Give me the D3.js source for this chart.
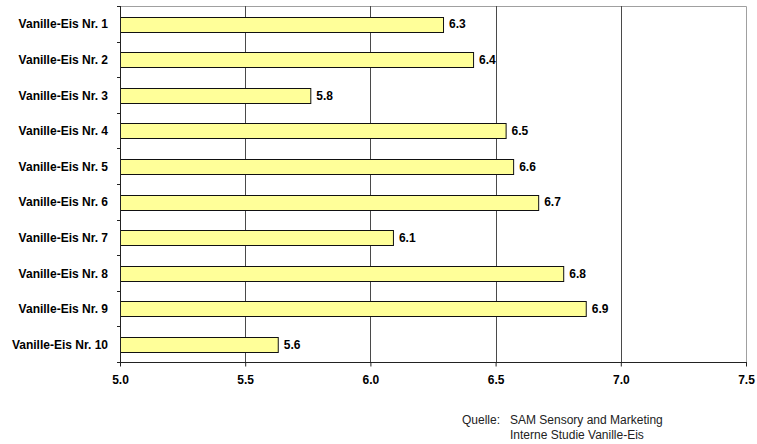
<!DOCTYPE html>
<html>
<head>
<meta charset="utf-8">
<script src="https://cdn.jsdelivr.net/npm/d3@7"></script>
<style>
  html, body { margin: 0; padding: 0; background: #fff; }
  svg { display: block; font-family: "Liberation Sans", Arial, Helvetica, sans-serif; }
</style>
</head>
<body>
<svg id="chart" width="757" height="444"></svg>
<script>
// Average ratings per vanilla ice cream sample
const categories = [
  "Vanille-Eis Nr. 1", "Vanille-Eis Nr. 2", "Vanille-Eis Nr. 3", "Vanille-Eis Nr. 4",
  "Vanille-Eis Nr. 5", "Vanille-Eis Nr. 6", "Vanille-Eis Nr. 7", "Vanille-Eis Nr. 8",
  "Vanille-Eis Nr. 9", "Vanille-Eis Nr. 10"
];
const ratings = [6.29, 6.41, 5.76, 6.54, 6.57, 6.67, 6.09, 6.77, 6.86, 5.63];
const xTicks = [5.0, 5.5, 6.0, 6.5, 7.0, 7.5];
const sourceLines = ["SAM Sensory and Marketing", "Interne Studie Vanille-Eis"];

const svg = d3.select("#chart");
const plot = { left: 120, right: 746, top: 6, bottom: 362 };

const x = d3.scaleLinear().domain([5.0, 7.5]).range([plot.left, plot.right]);
const y = d3.scaleBand().domain(categories).range([plot.top, plot.bottom])
  .paddingInner(0.59).paddingOuter(0.295);
const fmt = d3.format(".1f");

// plot frame (top and right edges)
svg.append("path")
  .attr("d", `M${plot.left},${plot.top + 0.5}H${plot.right + 0.5}V${plot.bottom}`)
  .attr("fill", "none").attr("stroke", "#a0a0a0").attr("stroke-width", 1);

// vertical gridlines
svg.append("g").selectAll("line")
  .data(xTicks.filter(t => t > 5.0 && t < 7.5))
  .join("line")
  .attr("x1", d => Math.round(x(d)) + 0.5).attr("x2", d => Math.round(x(d)) + 0.5)
  .attr("y1", plot.top).attr("y2", plot.bottom)
  .attr("stroke", "#4a4a4a").attr("stroke-width", 1);

// bars
svg.append("g").selectAll("rect")
  .data(ratings)
  .join("rect")
  .attr("x", x(5.0) + 0.5)
  .attr("y", (d, i) => Math.round(y(categories[i])) + 0.5)
  .attr("width", d => x(d) - x(5.0))
  .attr("height", Math.round(y.bandwidth()))
  .attr("fill", "#ffff99")
  .attr("stroke", "#111").attr("stroke-width", 1);

// value labels
svg.append("g").selectAll("text")
  .data(ratings)
  .join("text")
  .attr("x", d => x(d) + 6)
  .attr("y", (d, i) => y(categories[i]) + y.bandwidth() / 2 + 4.5)
  .attr("font-size", 12).attr("font-weight", "bold").attr("fill", "#000")
  .text(d => fmt(d));

// category axis: line, ticks at band boundaries, labels
const step = y.step();
const gap = (step - y.bandwidth()) / 2;
const bounds = categories.map(c => y(c) - gap).concat([plot.bottom]);
const yAxis = svg.append("g");
yAxis.append("line")
  .attr("x1", plot.left + 0.5).attr("x2", plot.left + 0.5)
  .attr("y1", plot.top).attr("y2", plot.bottom)
  .attr("stroke", "#222");
yAxis.selectAll("line.tick")
  .data(bounds)
  .join("line").attr("class", "tick")
  .attr("x1", plot.left - 3).attr("x2", plot.left)
  .attr("y1", d => Math.round(d) + 0.5).attr("y2", d => Math.round(d) + 0.5)
  .attr("stroke", "#222");
yAxis.selectAll("text")
  .data(categories)
  .join("text")
  .attr("x", 108)
  .attr("y", d => y(d) + y.bandwidth() / 2 + 4.5)
  .attr("text-anchor", "end")
  .attr("font-size", 12).attr("font-weight", "bold").attr("fill", "#000")
  .text(d => d);

// value axis
const xAxis = svg.append("g")
  .attr("transform", `translate(0,${plot.bottom + 0.5})`)
  .call(d3.axisBottom(x).tickValues(xTicks).tickSize(4).tickPadding(9).tickFormat(fmt));
xAxis.select(".domain").attr("stroke", "#222").attr("d", `M${plot.left},0H${plot.right + 1}`);
xAxis.selectAll(".tick line").attr("stroke", "#222");
xAxis.selectAll(".tick text")
  .attr("font-family", null)
  .attr("font-size", 12).attr("font-weight", "bold").attr("fill", "#000");

// source note
const note = svg.append("g").attr("font-size", 12).attr("fill", "#222");
note.append("text").attr("x", 462).attr("y", 424).text("Quelle:");
note.selectAll("text.src")
  .data(sourceLines)
  .join("text").attr("class", "src")
  .attr("x", 510).attr("y", (d, i) => 424 + i * 15)
  .text(d => d);
</script>
</body>
</html>
